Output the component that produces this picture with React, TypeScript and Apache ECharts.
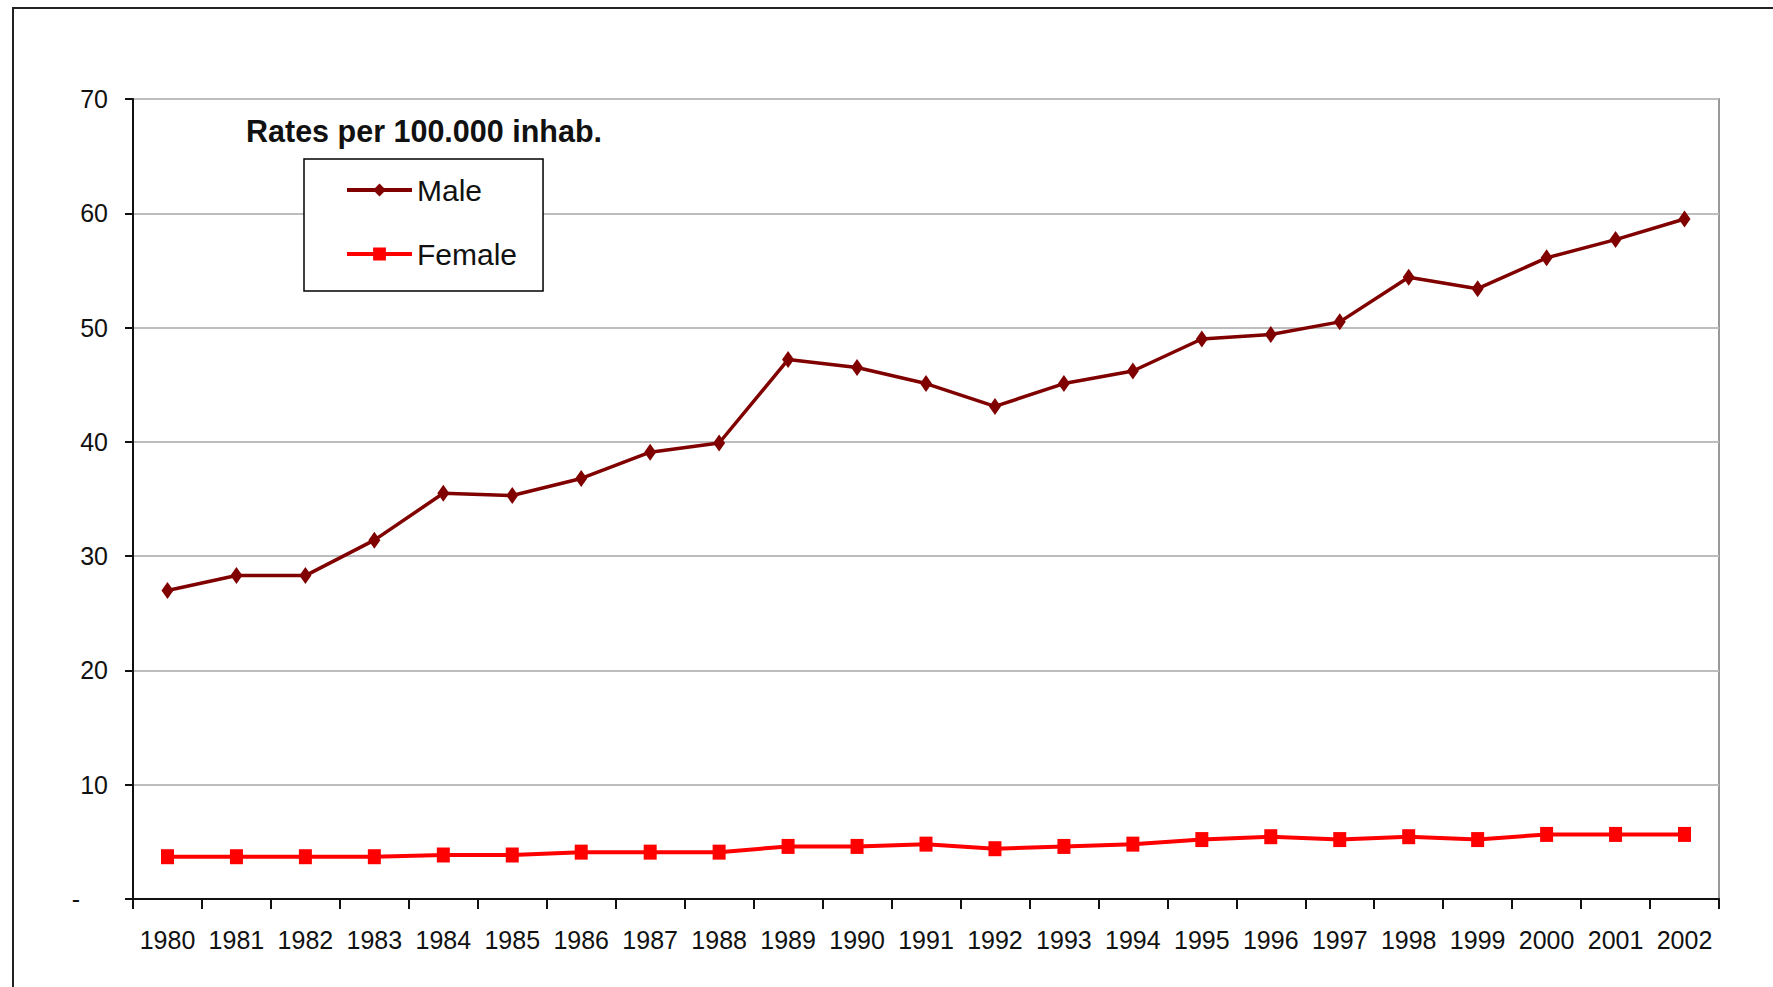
import React, { useEffect, useRef } from "react";
import * as echarts from "echarts";

const years = [
  "1980", "1981", "1982", "1983", "1984", "1985", "1986", "1987", "1988", "1989", "1990", "1991",
  "1992", "1993", "1994", "1995", "1996", "1997", "1998", "1999", "2000", "2001", "2002",
];
const maleRates = [
  27.0, 28.3, 28.3, 31.4, 35.5, 35.3, 36.8, 39.1, 39.9, 47.2, 46.5, 45.1,
  43.1, 45.1, 46.2, 49.0, 49.4, 50.5, 54.4, 53.4, 56.1, 57.7, 59.5,
];
const femaleRates = [
  3.7, 3.7, 3.7, 3.7, 3.85, 3.85, 4.1, 4.1, 4.1, 4.6, 4.6, 4.8,
  4.4, 4.6, 4.8, 5.2, 5.45, 5.2, 5.45, 5.2, 5.65, 5.65, 5.65,
];
const seriesNames = ["Male", "Female"];
const titleText = "Rates per 100.000 inhab.";

const FONT = "'Liberation Sans', Arial, Helvetica, sans-serif";

export default function App() {
  const ref = useRef<HTMLDivElement>(null);
  useEffect(() => {
    document.body.style.margin = "0";
    const chart = echarts.init(ref.current!, undefined, { renderer: "svg" });
    chart.setOption({
      animation: false,
      backgroundColor: "#ffffff",
      textStyle: { fontFamily: FONT },
      title: {
        text: titleText,
        left: 246,
        top: 115,
        padding: 0,
        textStyle: { fontFamily: FONT, fontSize: 30.5, fontWeight: "bold", color: "#111" },
      },
      legend: {
        orient: "vertical",
        left: 304,
        top: 159,
        padding: [16, 26, 22, 41],
        borderColor: "#000",
        borderWidth: 1.5,
        backgroundColor: "#fff",
        itemWidth: 65,
        itemHeight: 16,
        itemGap: 34,
        data: seriesNames,
        lineStyle: { width: 4 },
        textStyle: { fontFamily: FONT, fontSize: 30, color: "#111", lineHeight: 30 },
      },
      graphic: [
        {
          type: "rect",
          shape: { x: 13, y: 8, width: 1800, height: 1000 },
          style: { fill: "none", stroke: "#222", lineWidth: 2 },
          silent: true,
        },
      ],
      grid: {
        left: 133,
        top: 99,
        width: 1586,
        height: 800,
        show: true,
        borderColor: "#999",
        borderWidth: 2,
        backgroundColor: "transparent",
        containLabel: false,
      },
      xAxis: {
        type: "category",
        data: years,
        boundaryGap: true,
        axisLine: { show: true, lineStyle: { color: "#111", width: 2 } },
        axisTick: { show: true, interval: 0, length: 10, lineStyle: { color: "#111", width: 2 } },
        axisLabel: { interval: 0, margin: 28, fontFamily: FONT, fontSize: 25, color: "#111" },
        splitLine: { show: false },
      },
      yAxis: {
        type: "value",
        min: 0,
        max: 70,
        interval: 10,
        axisLine: { show: true, lineStyle: { color: "#111", width: 2 } },
        axisTick: { show: true, length: 8, lineStyle: { color: "#111", width: 2 } },
        axisLabel: {
          margin: 25,
          fontFamily: FONT,
          fontSize: 25,
          color: "#111",
          formatter: (v: number) => (v === 0 ? "{d|-}" : String(v)),
          rich: { d: { fontFamily: FONT, fontSize: 25, color: "#111", padding: [0, 28, 0, 0] } },
        },
        splitLine: { show: true, lineStyle: { color: "#bdbdbd", width: 2 } },
      },
      series: [
        {
          name: seriesNames[0],
          type: "line",
          data: maleRates,
          symbol: "diamond",
          symbolSize: [12, 17],
          showAllSymbol: true,
          lineStyle: { color: "#800000", width: 3.5 },
          itemStyle: { color: "#800000" },
          z: 3,
        },
        {
          name: seriesNames[1],
          type: "line",
          data: femaleRates,
          symbol: "rect",
          symbolSize: [13, 15],
          showAllSymbol: true,
          lineStyle: { color: "#ff0000", width: 4 },
          itemStyle: { color: "#ff0000" },
          z: 3,
        },
      ],
    });
    return () => chart.dispose();
  }, []);
  return <div ref={ref} style={{ width: 1773, height: 987 }} />;
}
